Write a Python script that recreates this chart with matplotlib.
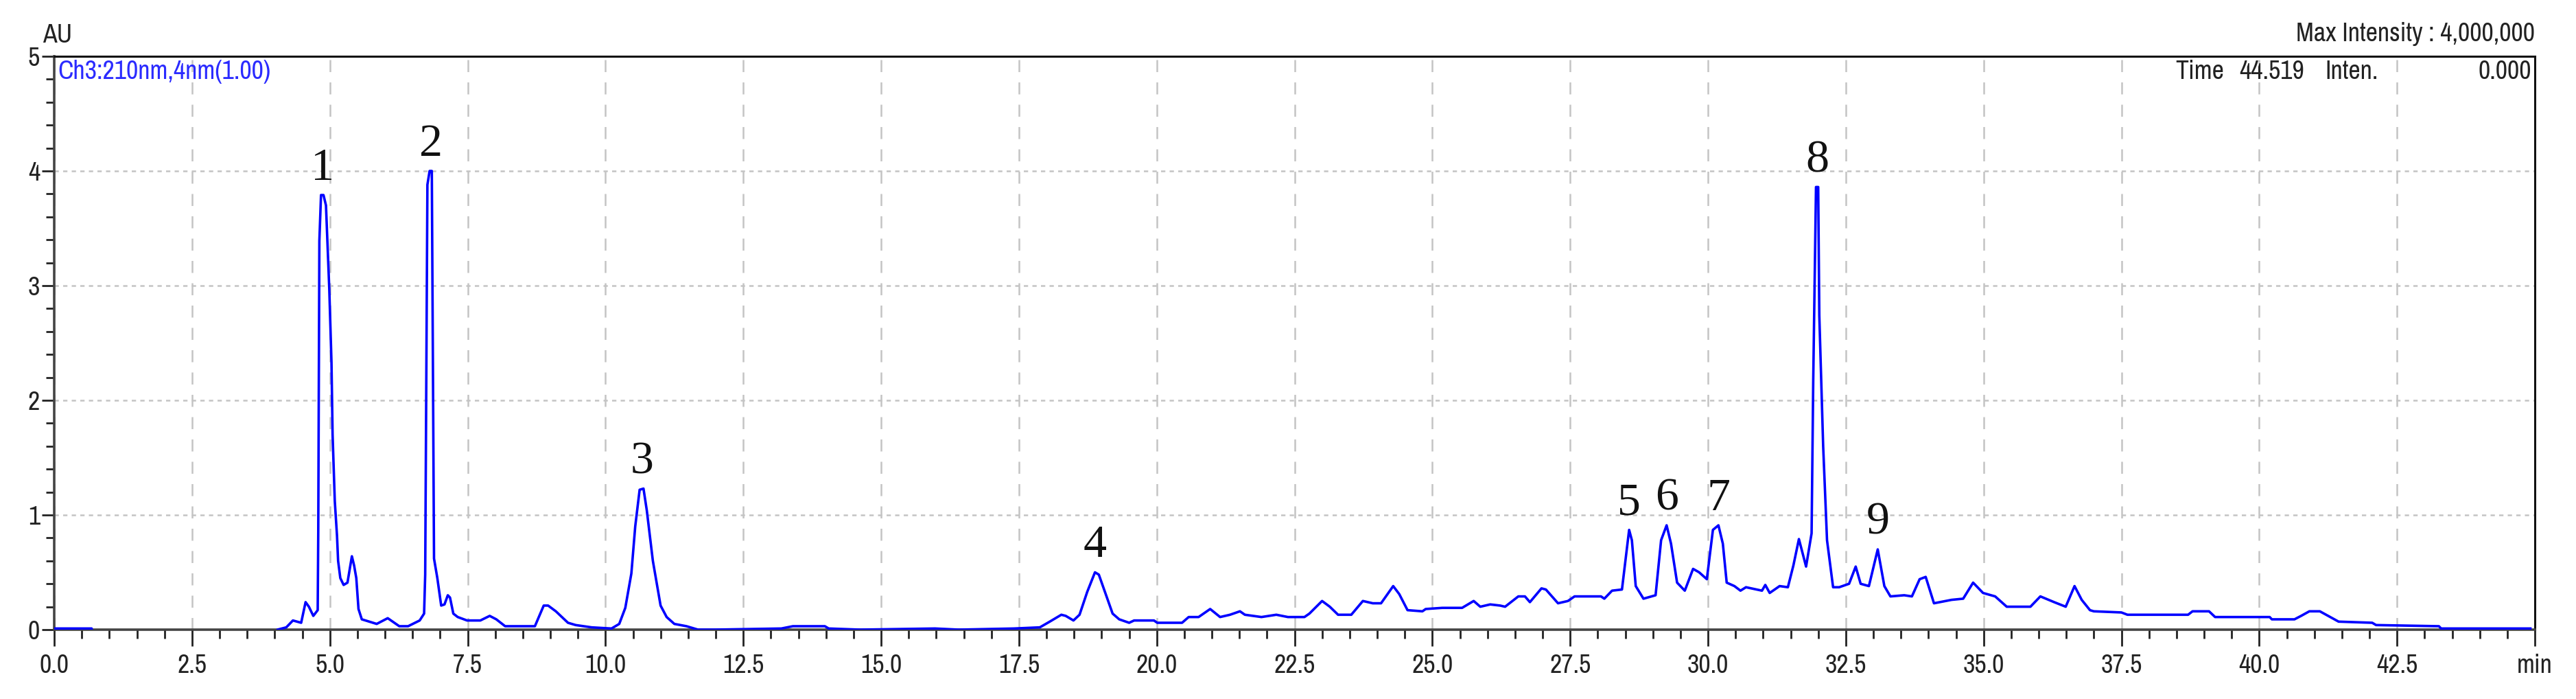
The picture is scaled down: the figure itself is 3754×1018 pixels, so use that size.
import matplotlib
matplotlib.use("Agg")
import matplotlib.pyplot as plt
from matplotlib import font_manager
from matplotlib.ticker import MultipleLocator
import numpy as np

# chromatogram, Ch3 210 nm
time_min = [
    0.00, 0.68, 0.70, 4.00, 4.05, 4.21, 4.33, 4.48, 4.56, 4.62, 4.70, 4.78,
    4.79, 4.81, 4.84, 4.885, 4.93, 4.96, 4.99, 5.03, 5.05, 5.09, 5.13, 5.15,
    5.19, 5.25, 5.32, 5.40, 5.44, 5.48, 5.52, 5.58, 5.85, 6.05, 6.26, 6.42,
    6.63, 6.71, 6.73, 6.77, 6.81, 6.85, 6.87, 6.89, 6.95, 7.02, 7.08, 7.14,
    7.18, 7.24, 7.32, 7.49, 7.73, 7.90, 8.02, 8.18, 8.72, 8.88, 8.96, 9.10,
    9.32, 9.46, 9.75, 10.11, 10.25, 10.36, 10.47, 10.54, 10.62, 10.69, 10.75, 10.86,
    11.00, 11.11, 11.25, 11.47, 11.68, 11.97, 13.19, 13.40, 13.98, 14.05, 14.62, 15.98,
    16.41, 17.41, 17.88, 18.06, 18.27, 18.35, 18.49, 18.60, 18.74, 18.88, 18.95, 19.06,
    19.20, 19.32, 19.50, 19.59, 19.95, 20.01, 20.46, 20.58, 20.76, 20.97, 21.15, 21.33,
    21.51, 21.60, 21.90, 22.17, 22.38, 22.68, 22.77, 23.00, 23.14, 23.29, 23.53, 23.74,
    23.92, 24.07, 24.29, 24.40, 24.55, 24.82, 24.88, 25.18, 25.54, 25.75, 25.87, 26.05,
    26.23, 26.32, 26.56, 26.68, 26.77, 26.98, 27.06, 27.28, 27.46, 27.58, 28.06, 28.12,
    28.26, 28.44, 28.51, 28.57, 28.62, 28.69, 28.83, 29.05, 29.15, 29.25, 29.33, 29.44,
    29.58, 29.73, 29.84, 29.98, 30.09, 30.19, 30.27, 30.34, 30.48, 30.59, 30.69, 30.98,
    31.04, 31.12, 31.30, 31.45, 31.55, 31.65, 31.78, 31.88, 31.91, 31.96, 32.00, 32.02,
    32.09, 32.16, 32.27, 32.38, 32.56, 32.68, 32.77, 32.92, 33.08, 33.20, 33.31, 33.56,
    33.70, 33.84, 33.95, 34.10, 34.42, 34.63, 34.81, 34.99, 35.21, 35.42, 35.85, 36.03,
    36.28, 36.49, 36.65, 36.78, 36.93, 37.00, 37.50, 37.61, 38.71, 38.79, 39.09, 39.20,
    40.19, 40.23, 40.64, 40.76, 40.91, 41.10, 41.25, 41.44, 42.05, 42.12, 43.26, 43.30,
    44.92,
]
intensity_au = [
    0.01, 0.01, -0.05, -0.05, 0.00, 0.02, 0.08, 0.06, 0.24, 0.20, 0.12, 0.17,
    0.85, 3.39, 3.79, 3.79, 3.70, 3.33, 2.97, 2.33, 1.70, 1.12, 0.82, 0.60,
    0.45, 0.39, 0.41, 0.64, 0.56, 0.45, 0.18, 0.09, 0.05, 0.10, 0.03, 0.03,
    0.08, 0.14, 0.48, 3.88, 4.00, 4.00, 2.30, 0.62, 0.45, 0.21, 0.22, 0.30,
    0.28, 0.14, 0.11, 0.08, 0.08, 0.12, 0.09, 0.03, 0.03, 0.21, 0.21, 0.16,
    0.06, 0.04, 0.02, 0.01, 0.05, 0.19, 0.49, 0.90, 1.22, 1.23, 1.04, 0.60,
    0.21, 0.11, 0.05, 0.03, 0.00, 0.00, 0.01, 0.03, 0.03, 0.01, 0.00, 0.01,
    0.00, 0.01, 0.02, 0.07, 0.13, 0.12, 0.08, 0.13, 0.33, 0.50, 0.48, 0.33,
    0.14, 0.09, 0.06, 0.08, 0.08, 0.06, 0.06, 0.11, 0.11, 0.18, 0.11, 0.13,
    0.16, 0.13, 0.11, 0.13, 0.11, 0.11, 0.14, 0.25, 0.20, 0.13, 0.13, 0.25,
    0.23, 0.23, 0.38, 0.31, 0.17, 0.16, 0.18, 0.19, 0.19, 0.25, 0.20, 0.22,
    0.21, 0.20, 0.29, 0.29, 0.24, 0.36, 0.35, 0.23, 0.25, 0.29, 0.29, 0.27,
    0.34, 0.35, 0.63, 0.87, 0.78, 0.38, 0.27, 0.30, 0.78, 0.91, 0.75, 0.41,
    0.34, 0.53, 0.50, 0.44, 0.87, 0.91, 0.75, 0.41, 0.38, 0.34, 0.37, 0.34,
    0.39, 0.32, 0.38, 0.37, 0.56, 0.79, 0.55, 0.84, 2.18, 3.86, 3.86, 2.74,
    1.60, 0.78, 0.37, 0.37, 0.40, 0.55, 0.40, 0.38, 0.70, 0.38, 0.29, 0.30,
    0.29, 0.44, 0.46, 0.23, 0.26, 0.27, 0.41, 0.32, 0.29, 0.20, 0.20, 0.29,
    0.24, 0.20, 0.38, 0.26, 0.17, 0.16, 0.15, 0.13, 0.13, 0.16, 0.16, 0.11,
    0.11, 0.09, 0.09, 0.12, 0.16, 0.16, 0.12, 0.07, 0.06, 0.04, 0.03, 0.01,
    0.01,
]

# numbered peaks
peak_labels = ["1", "2", "3", "4", "5", "6", "7", "8", "9"]
peak_times = [4.87, 6.83, 10.66, 18.88, 28.57, 29.25, 30.19, 31.98, 33.08]

x_ticks = [0.0, 2.5, 5.0, 7.5, 10.0, 12.5, 15.0, 17.5, 20.0, 22.5, 25.0,
           27.5, 30.0, 32.5, 35.0, 37.5, 40.0, 42.5, 45.0]
x_tick_labels = ["0.0", "2.5", "5.0", "7.5", "10.0", "12.5", "15.0", "17.5",
                 "20.0", "22.5", "25.0", "27.5", "30.0", "32.5", "35.0",
                 "37.5", "40.0", "42.5", "min"]
y_ticks = [0, 1, 2, 3, 4, 5]


def narrow_font():
    # the instrument software uses a narrow sans; take one if it is installed
    best = None
    for f in font_manager.fontManager.ttflist:
        fn = f.fname
        bad = any(k in fn for k in ["Bold", "Oblique", "Italic", "Mono", "Serif"])
        if bad:
            continue
        if "Narrow" in f.name or "Narrow" in fn:
            return font_manager.FontProperties(fname=fn)
        if "Condensed" in fn and best is None:
            best = fn
    if best:
        return font_manager.FontProperties(fname=best)
    return font_manager.FontProperties(family="Liberation Sans")


W, H = 3754, 1018
fig = plt.figure(figsize=(W / 100, H / 100), dpi=100)
# axes box in pixels: left 79, right 3694, top 82, bottom 917
ax = fig.add_axes([79 / W, 1 - 917 / H, (3694 - 79) / W, (917 - 82) / H])

fp = narrow_font()
renderer = fig.canvas.get_renderer()
probe = fig.text(0, 0, "Max Intensity : 4,000,000", fontproperties=fp, fontsize=27)
probe_w = probe.get_window_extent(renderer).width
probe.remove()
fs = 27 * 349 / probe_w   # size giving the width seen in the picture

ax.plot(time_min, intensity_au, color="#0000ff", lw=2.6, zorder=3)
ax.set_xlim(0, 45)
ax.set_ylim(0, 5)

ax.set_xticks(x_ticks)
ax.set_xticklabels(x_tick_labels)
ax.set_yticks(y_ticks)
ax.xaxis.set_minor_locator(MultipleLocator(0.5))
ax.yaxis.set_minor_locator(MultipleLocator(0.2))

ax.grid(axis="x", which="major", color="#c4c4c4", lw=1.8, ls=(0, (7, 6)))
ax.grid(axis="y", which="major", color="#c4c4c4", lw=1.8, ls=(0, (2.5, 2.5)))

txt_col = "#222222"
ax.tick_params(axis="x", which="major", length=17, width=2, pad=8, colors=txt_col)
ax.tick_params(axis="x", which="minor", length=9, width=2, colors=txt_col)
ax.tick_params(axis="y", which="major", length=13, width=2, pad=2, colors=txt_col)
ax.tick_params(axis="y", which="minor", length=9, width=2, colors=txt_col)
for lab in ax.get_xticklabels() + ax.get_yticklabels():
    lab.set_fontproperties(fp)
    lab.set_fontsize(fs)

for side in ["left", "bottom"]:
    ax.spines[side].set_color("#444444")
    ax.spines[side].set_linewidth(2.6)
for side in ["top", "right"]:
    ax.spines[side].set_color("#111111")
    ax.spines[side].set_linewidth(2.2)

# peak numbers above each apex
t_arr = np.array(time_min)
v_arr = np.array(intensity_au)
for lab, tp in zip(peak_labels, peak_times):
    near = np.abs(t_arr - tp) < 0.12
    i = np.argmax(np.where(near, v_arr, -1))
    ax.annotate(lab, xy=(tp, v_arr[i]), xytext=(0, 16), textcoords="offset points",
                ha="center", va="baseline", fontsize=49,
                family=["Liberation Serif", "DejaVu Serif"], color="#111111")


def head(x, y, s, ha="left", color=txt_col):
    fig.text(x / W, 1 - y / H, s, ha=ha, va="baseline", fontproperties=fp,
             fontsize=fs, color=color)


# header texts
head(62, 62, "AU")
head(3694, 60, "Max Intensity : 4,000,000", ha="right")
head(84, 115, "Ch3:210nm,4nm(1.00)", color="#2b2bff")
head(3170, 115, "Time")
head(3358, 115, "44.519", ha="right")
head(3388, 115, "Inten.")
head(3689, 115, "0.000", ha="right")

fig.savefig("out.png", dpi=100, facecolor="white")
